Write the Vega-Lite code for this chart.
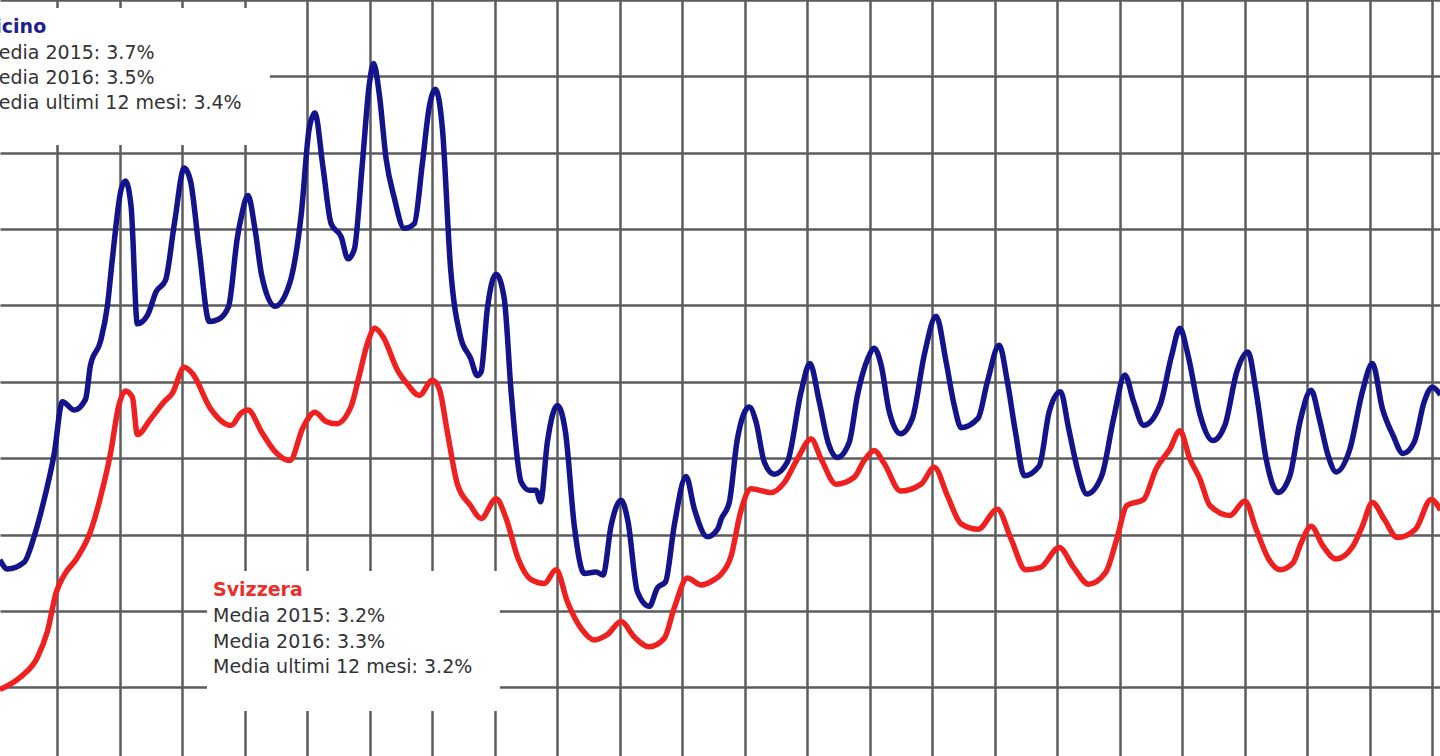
{
"$schema": "https://vega.github.io/schema/vega-lite/v6.json",
"width": 1440, "height": 756,
"autosize": {"type": "none"},
"padding": 0,
"background": "white",
"view": {"stroke": null},
"config": {"axis": {"labels": false, "ticks": false, "domain": false, "title": null, "grid": true, "gridColor": "#5c5c5c", "gridWidth": 2.5, "gridOpacity": 1}},
"datasets": {
"riquadri": [
{"x1": 1990.5, "x2": 1995.40, "y1": 9.895, "y2": 8.10},
{"x1": 1994.394, "x2": 1999.08, "y1": 2.522, "y2": 0.689}
],
"testi": [
{"x": 1990.80, "y": 9.568, "testo": "Ticino", "tipo": "titolo"},
{"x": 1990.80, "y": 9.221, "testo": "Media 2015: 3.7%", "tipo": "riga"},
{"x": 1990.80, "y": 8.900, "testo": "Media 2016: 3.5%", "tipo": "riga"},
{"x": 1990.80, "y": 8.573, "testo": "Media ultimi 12 mesi: 3.4%", "tipo": "riga"},
{"x": 1994.49, "y": 2.195, "testo": "Svizzera", "tipo": "titolo"},
{"x": 1994.49, "y": 1.854, "testo": "Media 2015: 3.2%", "tipo": "riga"},
{"x": 1994.49, "y": 1.514, "testo": "Media 2016: 3.3%", "tipo": "riga"},
{"x": 1994.49, "y": 1.186, "testo": "Media ultimi 12 mesi: 3.2%", "tipo": "riga"}
],
"serie": [
{"serie":"Ticino","anno":1991.08,"tasso":2.67},
{"serie":"Ticino","anno":1991.20,"tasso":2.55},
{"serie":"Ticino","anno":1991.47,"tasso":2.64},
{"serie":"Ticino","anno":1991.63,"tasso":2.98},
{"serie":"Ticino","anno":1991.78,"tasso":3.43},
{"serie":"Ticino","anno":1991.95,"tasso":4.06},
{"serie":"Ticino","anno":1992.08,"tasso":4.74},
{"serie":"Ticino","anno":1992.27,"tasso":4.63},
{"serie":"Ticino","anno":1992.45,"tasso":4.77},
{"serie":"Ticino","anno":1992.53,"tasso":5.22},
{"serie":"Ticino","anno":1992.69,"tasso":5.53},
{"serie":"Ticino","anno":1992.80,"tasso":5.99},
{"serie":"Ticino","anno":1992.88,"tasso":6.61},
{"serie":"Ticino","anno":1993.02,"tasso":7.52},
{"serie":"Ticino","anno":1993.09,"tasso":7.63},
{"serie":"Ticino","anno":1993.18,"tasso":7.29},
{"serie":"Ticino","anno":1993.28,"tasso":5.76},
{"serie":"Ticino","anno":1993.44,"tasso":5.87},
{"serie":"Ticino","anno":1993.58,"tasso":6.18},
{"serie":"Ticino","anno":1993.73,"tasso":6.33},
{"serie":"Ticino","anno":1993.87,"tasso":7.06},
{"serie":"Ticino","anno":1994.03,"tasso":7.80},
{"serie":"Ticino","anno":1994.13,"tasso":7.63},
{"serie":"Ticino","anno":1994.27,"tasso":6.72},
{"serie":"Ticino","anno":1994.43,"tasso":5.79},
{"serie":"Ticino","anno":1994.58,"tasso":5.82},
{"serie":"Ticino","anno":1994.74,"tasso":5.99},
{"serie":"Ticino","anno":1994.88,"tasso":6.89},
{"serie":"Ticino","anno":1994.94,"tasso":7.15},
{"serie":"Ticino","anno":1995.05,"tasso":7.44},
{"serie":"Ticino","anno":1995.16,"tasso":7.01},
{"serie":"Ticino","anno":1995.27,"tasso":6.39},
{"serie":"Ticino","anno":1995.48,"tasso":5.99},
{"serie":"Ticino","anno":1995.72,"tasso":6.30},
{"serie":"Ticino","anno":1995.90,"tasso":7.18},
{"serie":"Ticino","anno":1996.03,"tasso":8.32},
{"serie":"Ticino","anno":1996.12,"tasso":8.52},
{"serie":"Ticino","anno":1996.25,"tasso":7.81},
{"serie":"Ticino","anno":1996.38,"tasso":7.07},
{"serie":"Ticino","anno":1996.54,"tasso":6.90},
{"serie":"Ticino","anno":1996.65,"tasso":6.61},
{"serie":"Ticino","anno":1996.75,"tasso":6.73},
{"serie":"Ticino","anno":1996.88,"tasso":7.86},
{"serie":"Ticino","anno":1996.99,"tasso":8.89},
{"serie":"Ticino","anno":1997.06,"tasso":9.17},
{"serie":"Ticino","anno":1997.15,"tasso":8.77},
{"serie":"Ticino","anno":1997.26,"tasso":7.92},
{"serie":"Ticino","anno":1997.39,"tasso":7.41},
{"serie":"Ticino","anno":1997.55,"tasso":7.01},
{"serie":"Ticino","anno":1997.71,"tasso":7.07},
{"serie":"Ticino","anno":1997.84,"tasso":7.86},
{"serie":"Ticino","anno":1997.95,"tasso":8.60},
{"serie":"Ticino","anno":1998.05,"tasso":8.83},
{"serie":"Ticino","anno":1998.16,"tasso":8.32},
{"serie":"Ticino","anno":1998.29,"tasso":6.50},
{"serie":"Ticino","anno":1998.45,"tasso":5.59},
{"serie":"Ticino","anno":1998.61,"tasso":5.31},
{"serie":"Ticino","anno":1998.72,"tasso":5.08},
{"serie":"Ticino","anno":1998.78,"tasso":5.13},
{"serie":"Ticino","anno":1998.88,"tasso":5.96},
{"serie":"Ticino","anno":1999.02,"tasso":6.41},
{"serie":"Ticino","anno":1999.15,"tasso":6.09},
{"serie":"Ticino","anno":1999.26,"tasso":4.87},
{"serie":"Ticino","anno":1999.42,"tasso":3.69},
{"serie":"Ticino","anno":1999.55,"tasso":3.58},
{"serie":"Ticino","anno":1999.66,"tasso":3.58},
{"serie":"Ticino","anno":1999.73,"tasso":3.43},
{"serie":"Ticino","anno":1999.84,"tasso":4.21},
{"serie":"Ticino","anno":2000.00,"tasso":4.69},
{"serie":"Ticino","anno":2000.13,"tasso":4.34},
{"serie":"Ticino","anno":2000.27,"tasso":3.12},
{"serie":"Ticino","anno":2000.43,"tasso":2.49},
{"serie":"Ticino","anno":2000.62,"tasso":2.51},
{"serie":"Ticino","anno":2000.73,"tasso":2.47},
{"serie":"Ticino","anno":2000.86,"tasso":3.12},
{"serie":"Ticino","anno":2001.02,"tasso":3.45},
{"serie":"Ticino","anno":2001.13,"tasso":3.17},
{"serie":"Ticino","anno":2001.28,"tasso":2.25},
{"serie":"Ticino","anno":2001.47,"tasso":2.06},
{"serie":"Ticino","anno":2001.60,"tasso":2.30},
{"serie":"Ticino","anno":2001.73,"tasso":2.38},
{"serie":"Ticino","anno":2001.87,"tasso":3.12},
{"serie":"Ticino","anno":2002.06,"tasso":3.76},
{"serie":"Ticino","anno":2002.19,"tasso":3.34},
{"serie":"Ticino","anno":2002.40,"tasso":2.97},
{"serie":"Ticino","anno":2002.57,"tasso":3.08},
{"serie":"Ticino","anno":2002.62,"tasso":3.20},
{"serie":"Ticino","anno":2002.75,"tasso":3.42},
{"serie":"Ticino","anno":2002.88,"tasso":4.25},
{"serie":"Ticino","anno":2003.07,"tasso":4.67},
{"serie":"Ticino","anno":2003.18,"tasso":4.47},
{"serie":"Ticino","anno":2003.31,"tasso":3.95},
{"serie":"Ticino","anno":2003.47,"tasso":3.79},
{"serie":"Ticino","anno":2003.68,"tasso":3.95},
{"serie":"Ticino","anno":2003.90,"tasso":4.87},
{"serie":"Ticino","anno":2004.04,"tasso":5.24},
{"serie":"Ticino","anno":2004.19,"tasso":4.74},
{"serie":"Ticino","anno":2004.33,"tasso":4.21},
{"serie":"Ticino","anno":2004.48,"tasso":4.01},
{"serie":"Ticino","anno":2004.67,"tasso":4.21},
{"serie":"Ticino","anno":2004.80,"tasso":4.82},
{"serie":"Ticino","anno":2004.97,"tasso":5.31},
{"serie":"Ticino","anno":2005.07,"tasso":5.44},
{"serie":"Ticino","anno":2005.18,"tasso":5.22},
{"serie":"Ticino","anno":2005.31,"tasso":4.61},
{"serie":"Ticino","anno":2005.49,"tasso":4.32},
{"serie":"Ticino","anno":2005.68,"tasso":4.52},
{"serie":"Ticino","anno":2005.87,"tasso":5.35},
{"serie":"Ticino","anno":2006.06,"tasso":5.86},
{"serie":"Ticino","anno":2006.22,"tasso":5.26},
{"serie":"Ticino","anno":2006.35,"tasso":4.69},
{"serie":"Ticino","anno":2006.46,"tasso":4.40},
{"serie":"Ticino","anno":2006.73,"tasso":4.52},
{"serie":"Ticino","anno":2006.88,"tasso":5.00},
{"serie":"Ticino","anno":2007.07,"tasso":5.48},
{"serie":"Ticino","anno":2007.20,"tasso":5.00},
{"serie":"Ticino","anno":2007.33,"tasso":4.34},
{"serie":"Ticino","anno":2007.47,"tasso":3.77},
{"serie":"Ticino","anno":2007.71,"tasso":3.90},
{"serie":"Ticino","anno":2007.87,"tasso":4.61},
{"serie":"Ticino","anno":2008.05,"tasso":4.87},
{"serie":"Ticino","anno":2008.18,"tasso":4.39},
{"serie":"Ticino","anno":2008.32,"tasso":3.86},
{"serie":"Ticino","anno":2008.47,"tasso":3.53},
{"serie":"Ticino","anno":2008.71,"tasso":3.77},
{"serie":"Ticino","anno":2008.90,"tasso":4.52},
{"serie":"Ticino","anno":2009.08,"tasso":5.09},
{"serie":"Ticino","anno":2009.22,"tasso":4.74},
{"serie":"Ticino","anno":2009.38,"tasso":4.43},
{"serie":"Ticino","anno":2009.64,"tasso":4.69},
{"serie":"Ticino","anno":2009.83,"tasso":5.35},
{"serie":"Ticino","anno":2009.96,"tasso":5.70},
{"serie":"Ticino","anno":2010.09,"tasso":5.35},
{"serie":"Ticino","anno":2010.28,"tasso":4.58},
{"serie":"Ticino","anno":2010.49,"tasso":4.23},
{"serie":"Ticino","anno":2010.68,"tasso":4.43},
{"serie":"Ticino","anno":2010.87,"tasso":5.13},
{"serie":"Ticino","anno":2011.05,"tasso":5.39},
{"serie":"Ticino","anno":2011.18,"tasso":4.87},
{"serie":"Ticino","anno":2011.34,"tasso":3.99},
{"serie":"Ticino","anno":2011.53,"tasso":3.55},
{"serie":"Ticino","anno":2011.72,"tasso":3.77},
{"serie":"Ticino","anno":2011.88,"tasso":4.47},
{"serie":"Ticino","anno":2012.06,"tasso":4.89},
{"serie":"Ticino","anno":2012.19,"tasso":4.52},
{"serie":"Ticino","anno":2012.33,"tasso":4.04},
{"serie":"Ticino","anno":2012.46,"tasso":3.82},
{"serie":"Ticino","anno":2012.68,"tasso":4.12},
{"serie":"Ticino","anno":2012.88,"tasso":4.87},
{"serie":"Ticino","anno":2013.04,"tasso":5.24},
{"serie":"Ticino","anno":2013.20,"tasso":4.65},
{"serie":"Ticino","anno":2013.37,"tasso":4.30},
{"serie":"Ticino","anno":2013.53,"tasso":4.06},
{"serie":"Ticino","anno":2013.71,"tasso":4.21},
{"serie":"Ticino","anno":2013.87,"tasso":4.74},
{"serie":"Ticino","anno":2014.00,"tasso":4.93},
{"serie":"Ticino","anno":2014.13,"tasso":4.83},
{"serie":"Svizzera","anno":1991.08,"tasso":0.97},
{"serie":"Svizzera","anno":1991.42,"tasso":1.14},
{"serie":"Svizzera","anno":1991.68,"tasso":1.39},
{"serie":"Svizzera","anno":1991.84,"tasso":1.73},
{"serie":"Svizzera","anno":1991.98,"tasso":2.24},
{"serie":"Svizzera","anno":1992.11,"tasso":2.47},
{"serie":"Svizzera","anno":1992.32,"tasso":2.70},
{"serie":"Svizzera","anno":1992.53,"tasso":3.04},
{"serie":"Svizzera","anno":1992.69,"tasso":3.49},
{"serie":"Svizzera","anno":1992.85,"tasso":4.06},
{"serie":"Svizzera","anno":1992.98,"tasso":4.68},
{"serie":"Svizzera","anno":1993.09,"tasso":4.88},
{"serie":"Svizzera","anno":1993.20,"tasso":4.80},
{"serie":"Svizzera","anno":1993.28,"tasso":4.31},
{"serie":"Svizzera","anno":1993.49,"tasso":4.51},
{"serie":"Svizzera","anno":1993.71,"tasso":4.74},
{"serie":"Svizzera","anno":1993.84,"tasso":4.85},
{"serie":"Svizzera","anno":1994.03,"tasso":5.19},
{"serie":"Svizzera","anno":1994.16,"tasso":5.11},
{"serie":"Svizzera","anno":1994.45,"tasso":4.65},
{"serie":"Svizzera","anno":1994.78,"tasso":4.43},
{"serie":"Svizzera","anno":1994.94,"tasso":4.59},
{"serie":"Svizzera","anno":1995.05,"tasso":4.63},
{"serie":"Svizzera","anno":1995.27,"tasso":4.34},
{"serie":"Svizzera","anno":1995.48,"tasso":4.09},
{"serie":"Svizzera","anno":1995.72,"tasso":3.97},
{"serie":"Svizzera","anno":1995.93,"tasso":4.40},
{"serie":"Svizzera","anno":1996.12,"tasso":4.60},
{"serie":"Svizzera","anno":1996.30,"tasso":4.48},
{"serie":"Svizzera","anno":1996.46,"tasso":4.45},
{"serie":"Svizzera","anno":1996.70,"tasso":4.68},
{"serie":"Svizzera","anno":1996.83,"tasso":5.08},
{"serie":"Svizzera","anno":1996.97,"tasso":5.53},
{"serie":"Svizzera","anno":1997.08,"tasso":5.70},
{"serie":"Svizzera","anno":1997.21,"tasso":5.59},
{"serie":"Svizzera","anno":1997.45,"tasso":5.14},
{"serie":"Svizzera","anno":1997.60,"tasso":4.97},
{"serie":"Svizzera","anno":1997.79,"tasso":4.82},
{"serie":"Svizzera","anno":1998.00,"tasso":5.02},
{"serie":"Svizzera","anno":1998.11,"tasso":4.91},
{"serie":"Svizzera","anno":1998.24,"tasso":4.34},
{"serie":"Svizzera","anno":1998.40,"tasso":3.66},
{"serie":"Svizzera","anno":1998.61,"tasso":3.38},
{"serie":"Svizzera","anno":1998.78,"tasso":3.21},
{"serie":"Svizzera","anno":1999.02,"tasso":3.47},
{"serie":"Svizzera","anno":1999.18,"tasso":3.21},
{"serie":"Svizzera","anno":1999.37,"tasso":2.69},
{"serie":"Svizzera","anno":1999.58,"tasso":2.41},
{"serie":"Svizzera","anno":1999.79,"tasso":2.36},
{"serie":"Svizzera","anno":1999.98,"tasso":2.54},
{"serie":"Svizzera","anno":2000.16,"tasso":2.12},
{"serie":"Svizzera","anno":2000.38,"tasso":1.77},
{"serie":"Svizzera","anno":2000.59,"tasso":1.62},
{"serie":"Svizzera","anno":2000.80,"tasso":1.69},
{"serie":"Svizzera","anno":2001.02,"tasso":1.86},
{"serie":"Svizzera","anno":2001.23,"tasso":1.66},
{"serie":"Svizzera","anno":2001.47,"tasso":1.53},
{"serie":"Svizzera","anno":2001.71,"tasso":1.64},
{"serie":"Svizzera","anno":2001.87,"tasso":2.04},
{"serie":"Svizzera","anno":2002.08,"tasso":2.43},
{"serie":"Svizzera","anno":2002.30,"tasso":2.34},
{"serie":"Svizzera","anno":2002.51,"tasso":2.41},
{"serie":"Svizzera","anno":2002.62,"tasso":2.48},
{"serie":"Svizzera","anno":2002.78,"tasso":2.72},
{"serie":"Svizzera","anno":2002.93,"tasso":3.29},
{"serie":"Svizzera","anno":2003.10,"tasso":3.60},
{"serie":"Svizzera","anno":2003.42,"tasso":3.55},
{"serie":"Svizzera","anno":2003.63,"tasso":3.68},
{"serie":"Svizzera","anno":2003.84,"tasso":3.99},
{"serie":"Svizzera","anno":2004.06,"tasso":4.25},
{"serie":"Svizzera","anno":2004.22,"tasso":3.99},
{"serie":"Svizzera","anno":2004.46,"tasso":3.66},
{"serie":"Svizzera","anno":2004.75,"tasso":3.75},
{"serie":"Svizzera","anno":2004.91,"tasso":3.97},
{"serie":"Svizzera","anno":2005.07,"tasso":4.10},
{"serie":"Svizzera","anno":2005.23,"tasso":3.93},
{"serie":"Svizzera","anno":2005.49,"tasso":3.57},
{"serie":"Svizzera","anno":2005.82,"tasso":3.66},
{"serie":"Svizzera","anno":2006.03,"tasso":3.88},
{"serie":"Svizzera","anno":2006.24,"tasso":3.51},
{"serie":"Svizzera","anno":2006.46,"tasso":3.14},
{"serie":"Svizzera","anno":2006.73,"tasso":3.07},
{"serie":"Svizzera","anno":2007.04,"tasso":3.33},
{"serie":"Svizzera","anno":2007.26,"tasso":2.94},
{"serie":"Svizzera","anno":2007.49,"tasso":2.54},
{"serie":"Svizzera","anno":2007.73,"tasso":2.57},
{"serie":"Svizzera","anno":2008.03,"tasso":2.83},
{"serie":"Svizzera","anno":2008.26,"tasso":2.57},
{"serie":"Svizzera","anno":2008.50,"tasso":2.35},
{"serie":"Svizzera","anno":2008.77,"tasso":2.50},
{"serie":"Svizzera","anno":2008.95,"tasso":2.94},
{"serie":"Svizzera","anno":2009.11,"tasso":3.38},
{"serie":"Svizzera","anno":2009.38,"tasso":3.46},
{"serie":"Svizzera","anno":2009.58,"tasso":3.86},
{"serie":"Svizzera","anno":2009.80,"tasso":4.12},
{"serie":"Svizzera","anno":2009.96,"tasso":4.36},
{"serie":"Svizzera","anno":2010.12,"tasso":3.99},
{"serie":"Svizzera","anno":2010.28,"tasso":3.73},
{"serie":"Svizzera","anno":2010.44,"tasso":3.38},
{"serie":"Svizzera","anno":2010.76,"tasso":3.25},
{"serie":"Svizzera","anno":2011.00,"tasso":3.44},
{"serie":"Svizzera","anno":2011.18,"tasso":3.07},
{"serie":"Svizzera","anno":2011.38,"tasso":2.68},
{"serie":"Svizzera","anno":2011.56,"tasso":2.54},
{"serie":"Svizzera","anno":2011.77,"tasso":2.63},
{"serie":"Svizzera","anno":2011.90,"tasso":2.89},
{"serie":"Svizzera","anno":2012.06,"tasso":3.11},
{"serie":"Svizzera","anno":2012.25,"tasso":2.85},
{"serie":"Svizzera","anno":2012.46,"tasso":2.68},
{"serie":"Svizzera","anno":2012.73,"tasso":2.85},
{"serie":"Svizzera","anno":2012.88,"tasso":3.11},
{"serie":"Svizzera","anno":2013.04,"tasso":3.42},
{"serie":"Svizzera","anno":2013.23,"tasso":3.20},
{"serie":"Svizzera","anno":2013.44,"tasso":2.96},
{"serie":"Svizzera","anno":2013.73,"tasso":3.07},
{"serie":"Svizzera","anno":2013.98,"tasso":3.46},
{"serie":"Svizzera","anno":2014.13,"tasso":3.32}
]
},
"layer": [
{
"data": {"name": "riquadri"},
"mark": {"type": "rect", "color": "white", "clip": true},
"encoding": {
"x": {"field": "x1", "type": "quantitative", "scale": {"domain": [1991.082, 2014.122], "nice": false, "zero": false},
"axis": {"values": [1992,1993,1994,1995,1996,1997,1998,1999,2000,2001,2002,2003,2004,2005,2006,2007,2008,2009,2010,2011,2012,2013,2014]}},
"x2": {"field": "x2"},
"y": {"field": "y1", "type": "quantitative", "scale": {"domain": [0.1, 10], "nice": false, "zero": false},
"axis": {"values": [1,2,3,4,5,6,7,8,9,10]}},
"y2": {"field": "y2"}
}
},
{
"data": {"name": "serie"},
"mark": {"type": "line", "strokeWidth": 5.5, "interpolate": "monotone", "clip": true},
"encoding": {
"x": {"field": "anno", "type": "quantitative"},
"y": {"field": "tasso", "type": "quantitative"},
"color": {"field": "serie", "type": "nominal", "scale": {"domain": ["Ticino", "Svizzera"], "range": ["#14148a", "#ee2020"]}, "legend": null}
}
},
{
"data": {"name": "testi"},
"transform": [{"filter": "datum.tipo === 'titolo'"}],
"mark": {"type": "text", "align": "left", "baseline": "alphabetic", "font": "DejaVu Sans", "fontSize": 19, "fontWeight": "bold", "clip": true},
"encoding": {
"x": {"field": "x", "type": "quantitative"},
"y": {"field": "y", "type": "quantitative"},
"text": {"field": "testo"},
"color": {"condition": {"test": "datum.testo === 'Ticino'", "value": "#1e1e8c"}, "value": "#e8302c"}
}
},
{
"data": {"name": "testi"},
"transform": [{"filter": "datum.tipo === 'riga'"}],
"mark": {"type": "text", "align": "left", "baseline": "alphabetic", "font": "DejaVu Sans", "fontSize": 19, "color": "#333333", "clip": true},
"encoding": {
"x": {"field": "x", "type": "quantitative"},
"y": {"field": "y", "type": "quantitative"},
"text": {"field": "testo"}
}
}
]
}
